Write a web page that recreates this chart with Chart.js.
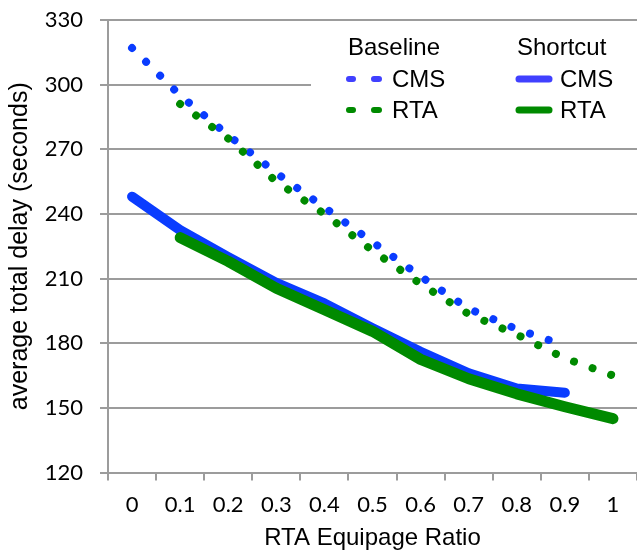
<!DOCTYPE html>
<html>
<head>
<meta charset="utf-8">
<title>Average total delay vs RTA equipage ratio</title>
<script src="https://cdn.jsdelivr.net/npm/chart.js@4.4.1/dist/chart.umd.min.js"></script>
<style>
  html, body { margin: 0; padding: 0; background: #fff; }
  #wrap { width: 637px; height: 555px; position: relative; }
</style>
</head>
<body>
<div id="wrap"><canvas id="delayChart"></canvas></div>
<script>
// ---------- Data ----------
const ratioLabels = ['0', '0.1', '0.2', '0.3', '0.4', '0.5', '0.6', '0.7', '0.8', '0.9', '1'];
const baselineCms = [317, 295, 276.5, 259, 243, 227, 211, 196, 186.5, 179, null];
const baselineRta = [null, 291, 275, 255, 240, 223, 207.5, 193.5, 184, 173, 165];
const shortcutCms = [248, 232.5, 220, 208, 198.5, 187, 176, 166, 159, 157, null];
const shortcutRta = [null, 229, 218, 205.5, 195.5, 185.5, 172.5, 163.5, 156.5, 150.5, 145];
const yTicks = [120, 150, 180, 210, 240, 270, 300, 330];

// ---------- Styles ----------
const BLUE = '#0a3cff';
const GREEN = '#008a00';
const LEG_BLUE = '#4040ff';
const GRID = '#9c9c9c';
const SANS = '"Liberation Sans", Arial, Helvetica, sans-serif';
const TICKFONT = 'Lato, "Open Sans", sans-serif';

// legend with two column headers, drawn on top of the plot
const groupLegend = {
  id: 'groupLegend',
  afterDraw(chart) {
    const ctx = chart.ctx;
    ctx.save();
    ctx.fillStyle = '#fff';
    ctx.fillRect(311, 24, chart.width - 311, 100);

    ctx.fillStyle = '#000';
    ctx.font = '24px ' + SANS;
    ctx.textBaseline = 'alphabetic';
    ctx.textAlign = 'left';
    ctx.fillText('Baseline', 348, 55);
    ctx.fillText('Shortcut', 517, 55);
    ctx.fillText('CMS', 392, 87);
    ctx.fillText('RTA', 392, 118);
    ctx.fillText('CMS', 560, 87);
    ctx.fillText('RTA', 560, 118);

    ctx.lineCap = 'round';
    // dotted markers
    ctx.lineWidth = 6;
    [[LEG_BLUE, 79], [GREEN, 110]].forEach(([c, y]) => {
      ctx.strokeStyle = c;
      ctx.beginPath();
      ctx.moveTo(349, y); ctx.lineTo(353, y);
      ctx.moveTo(374, y); ctx.lineTo(379, y);
      ctx.stroke();
    });
    // solid markers
    ctx.lineWidth = 7;
    [[LEG_BLUE, 79], [GREEN, 110]].forEach(([c, y]) => {
      ctx.strokeStyle = c;
      ctx.beginPath();
      ctx.moveTo(519, y); ctx.lineTo(549, y);
      ctx.stroke();
    });
    ctx.restore();
  }
};

const ctx = document.getElementById('delayChart').getContext('2d');
new Chart(ctx, {
  type: 'line',
  data: {
    labels: ratioLabels,
    datasets: [
      { label: 'Baseline CMS', data: baselineCms, borderColor: BLUE, borderWidth: 8,
        borderDash: [0.01, 19.7], borderCapStyle: 'round', order: 3 },
      { label: 'Baseline RTA', data: baselineRta, borderColor: GREEN, borderWidth: 8,
        borderDash: [0.01, 19.7], borderCapStyle: 'round', order: 2 },
      { label: 'Shortcut CMS', data: shortcutCms, borderColor: BLUE, borderWidth: 10,
        borderCapStyle: 'round', borderJoinStyle: 'round', order: 1 },
      { label: 'Shortcut RTA', data: shortcutRta, borderColor: GREEN, borderWidth: 11,
        borderCapStyle: 'round', borderJoinStyle: 'round', order: 0 }
    ]
  },
  options: {
    responsive: true,
    maintainAspectRatio: false,
    animation: false,
    devicePixelRatio: 1,
    layout: { padding: { top: 20, right: 0, bottom: 0, left: 0 } },
    elements: { point: { radius: 0, hoverRadius: 0 }, line: { tension: 0, fill: false } },
    plugins: { legend: { display: false }, tooltip: { enabled: false } },
    scales: {
      x: {
        type: 'category',
        offset: true,
        grid: { offset: true, drawOnChartArea: false, drawTicks: true, tickLength: 8,
                color: GRID, lineWidth: 2 },
        border: { color: GRID, width: 2 },
        ticks: { color: '#000', font: { family: TICKFONT, size: 22 }, padding: 11,
                 maxRotation: 0, autoSkip: false },
        title: { display: true, text: 'RTA Equipage Ratio', color: '#000',
                 font: { family: SANS, size: 24 }, padding: { top: 0, bottom: 2 } },
        afterFit(scale) { scale.height = 82.5; scale.paddingLeft = 0; scale.paddingRight = 0; }
      },
      y: {
        min: 120,
        max: 330,
        afterBuildTicks(scale) { scale.ticks = yTicks.map(v => ({ value: v })); },
        grid: { color: GRID, lineWidth: 2, tickLength: 8 },
        border: { color: GRID, width: 2 },
        ticks: { color: '#000', font: { family: TICKFONT, size: 22 }, padding: 17 },
        title: { display: true, text: 'average total delay (seconds)', color: '#000',
                 font: { family: SANS, size: 25 }, padding: { top: 5, bottom: 0 } },
        afterFit(scale) { scale.width = 108; scale.paddingTop = 0; scale.paddingBottom = 0; }
      }
    }
  },
  plugins: [groupLegend]
});
</script>
</body>
</html>
